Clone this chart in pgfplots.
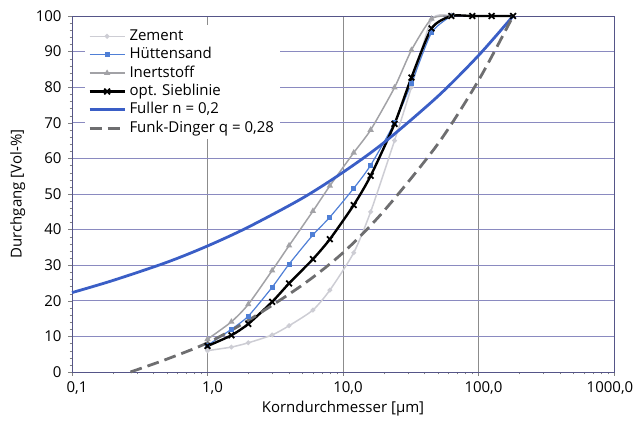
\documentclass[border=0pt]{standalone}
\usepackage{fontspec}
\setmainfont{Open Sans}
\usepackage{pgfplots}
\pgfplotsset{compat=1.18}

\definecolor{zement}{HTML}{CDCDD4}
\definecolor{huetten}{HTML}{4F7FD6}
\definecolor{inert}{HTML}{A2A2A6}
\definecolor{fuller}{HTML}{3A5EC6}
\definecolor{funk}{HTML}{6E6E70}
\definecolor{gridblue}{HTML}{8A8AC0}
\definecolor{framec}{HTML}{555588}

\begin{document}
\begin{tikzpicture}
\path[use as bounding box] (-72pt,-50pt) rectangle (568pt,372pt);
\begin{axis}[
    scale only axis,
    width=542pt, height=356pt,
    font=\fontsize{15}{17}\selectfont,
    xmode=log,
    xmin=0.1, xmax=1000,
    ymin=0, ymax=100,
    xtick={0.1,1,10,100,1000},
    xticklabels={{0,1},{1,0},{10,0},{100,0},{\kern-18pt1000,0}},
    minor xtick={0.2,0.3,0.4,0.5,0.6,0.7,0.8,0.9,2,3,4,5,6,7,8,9,20,30,40,50,60,70,80,90,200,300,400,500,600,700,800,900},
    ytick={0,10,...,100},
    minor y tick num=4,
    xtick pos=bottom, ytick pos=left,
    tick align=outside,
    major tick length=4pt, minor tick length=2.5pt,
    /pgf/number format/assume math mode=true,
    xticklabel style={xshift=5pt, yshift=-2pt},
    yticklabel style={xshift=-3pt},
    grid=major,
    x grid style={gray!90, line width=0.6pt},
    y grid style={gridblue, line width=0.6pt},
    axis line style={framec, line width=0.8pt},
    xlabel={Korndurchmesser [µm]},
    ylabel={Durchgang [Vol-\%]},
    xlabel style={at={(axis description cs:0.5,-0.104)}, anchor=center},
    ylabel style={at={(axis description cs:-0.1,0.5)}, anchor=center},
    clip=false,
    legend cell align=left,
    legend style={
        at={(axis description cs:0.024,0.975)}, anchor=north west,
        draw=none, fill=white,
        font=\fontsize{15}{15}\selectfont,
        row sep=0pt,
        nodes={inner xsep=3.5pt, inner ysep=2.2pt, text height=11pt, text depth=3pt},
    },
    legend image code/.code={
        \draw[mark repeat=2, mark phase=2] plot coordinates {(0pt,0pt) (17.5pt,0pt) (35pt,0pt)};
    },
]

\addplot[zement, line width=1.5pt, smooth, tension=0.4, mark=*, mark size=1.6pt] coordinates {
    (1,6.0) (1.5,7.0) (2,8.2) (3,10.4) (4,13.0) (6,17.4) (8,23.0)
    (12,33.5) (16,45.0) (24,65.0) (32,80.0) (45,99.0) (63,100)
};
\addlegendentry{Zement}

\addplot[huetten, line width=1.2pt, smooth, tension=0.4, mark=square*, mark size=1.9pt] coordinates {
    (1,7.5) (1.5,12.0) (2,15.7) (3,23.8) (4,30.3) (6,38.5) (8,43.5)
    (12,51.6) (16,58.1) (24,70.0) (32,81.1) (45,95.3) (63,100)
};
\addlegendentry{Hüttensand}

\addplot[inert, line width=1.5pt, smooth, tension=0.4, mark=triangle*, mark size=2.2pt] coordinates {
    (1,9.2) (1.5,14.1) (2,19.0) (3,28.5) (4,35.5) (6,45.2) (8,52.3)
    (12,61.6) (16,68.0) (24,79.9) (32,90.4) (45,99.2) (63,100)
};
\addlegendentry{Inertstoff}

\addplot[black, line width=2.4pt, smooth, tension=0.4, mark=x, mark size=4pt,
    mark options={line width=1.8pt}] coordinates {
    (1,7.3) (1.5,10.3) (2,13.5) (3,19.7) (4,24.9) (6,31.7) (8,37.3)
    (12,46.9) (16,55.1) (24,69.7) (32,82.7) (45,96.5) (63,100)
    (90,100) (125,100) (180,100)
};
\addlegendentry{opt. Sieblinie}

\addplot[fuller, line width=2.8pt, smooth] coordinates {
    (0.1,22.3) (0.2,25.7) (0.5,30.8) (1,35.4) (2,40.7) (5,48.8)
    (10,56.1) (20,64.4) (50,77.4) (100,88.9) (180,100)
};
\addlegendentry{Fuller n = 0,2}

\addplot[funk, line width=2.8pt, smooth, dash pattern=on 12pt off 6pt] coordinates {
    (0.27,0) (0.5,3.6) (1,8.2) (2,14.5) (5,24.4) (10,33.5)
    (20,45.2) (50,64.0) (100,81.9) (180,100)
};
\addlegendentry{Funk-Dinger q = 0,28}

\end{axis}
\end{tikzpicture}
\end{document}
